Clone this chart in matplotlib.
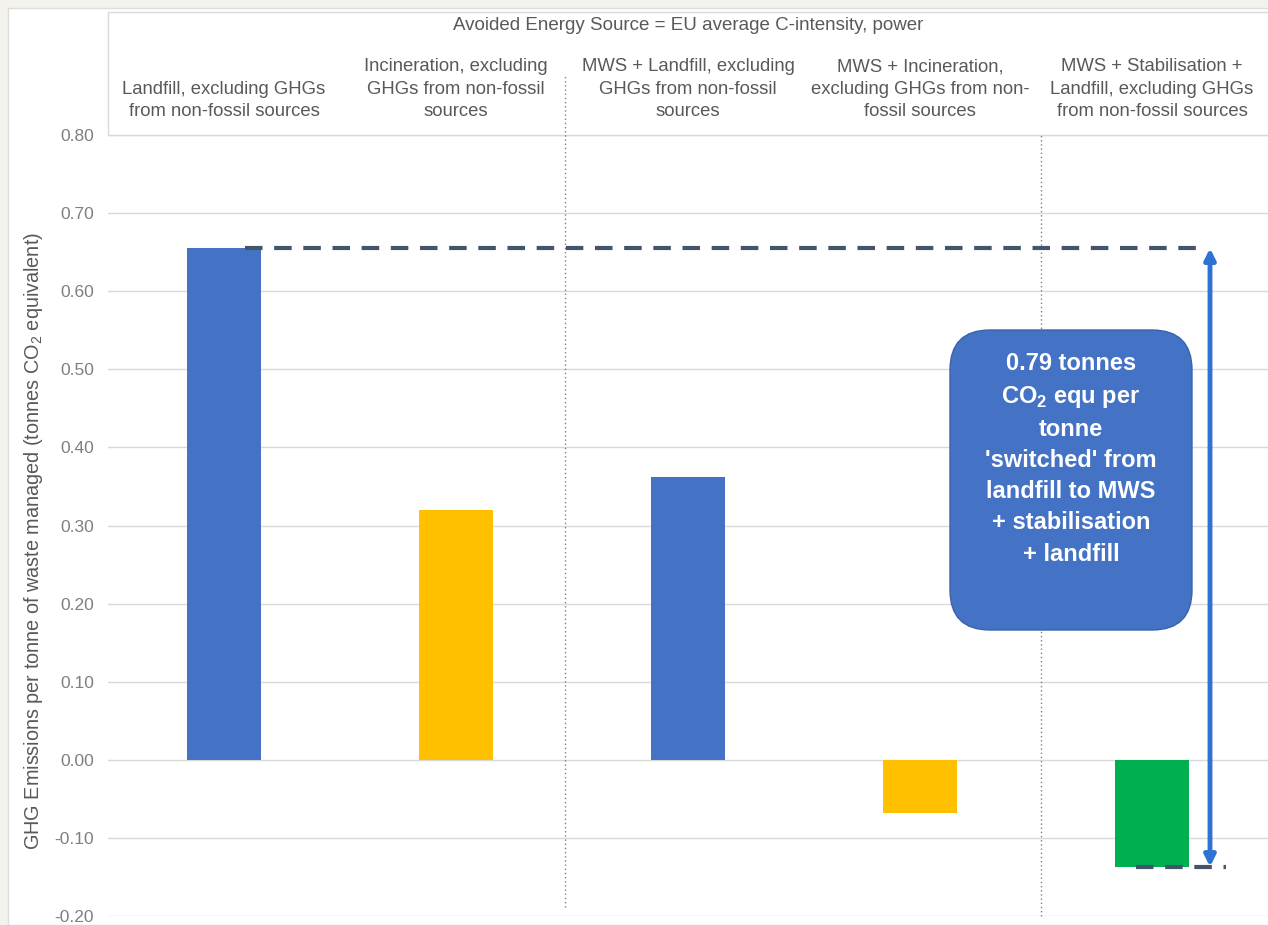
import matplotlib.pyplot as plt
from matplotlib.patches import Rectangle, FancyBboxPatch

plt.rcParams['font.family'] = ['Liberation Sans', 'DejaVu Sans']
plt.rcParams['mathtext.fontset'] = 'custom'
plt.rcParams['mathtext.rm'] = 'Liberation Sans'
plt.rcParams['mathtext.bf'] = 'Liberation Sans:bold'

# Scenario data (tonnes CO2e per tonne of waste managed)
scenarios = [
    "Landfill, excluding GHGs\nfrom non-fossil sources",
    "Incineration, excluding\nGHGs from non-fossil\nsources",
    "MWS + Landfill, excluding\nGHGs from non-fossil\nsources",
    "MWS + Incineration,\nexcluding GHGs from non-\nfossil sources",
    "MWS + Stabilisation +\nLandfill, excluding GHGs\nfrom non-fossil sources",
]
emissions = [0.655, 0.320, 0.362, -0.068, -0.137]
bar_colors = ["#4472c4", "#ffc000", "#4472c4", "#ffc000", "#00b050"]
yticks = [-0.20, -0.10, 0.00, 0.10, 0.20, 0.30, 0.40, 0.50, 0.60, 0.70, 0.80]

saving = emissions[0] - emissions[4]

W, H = 1268, 925
fig = plt.figure(figsize=(W / 100, H / 100), dpi=100, facecolor="#f4f2ec")

# white chart panel and header strip (behind the axes)
fig.patches.append(Rectangle((8 / W, 0), 1, 1 - 8 / H, transform=fig.transFigure,
                             facecolor="white", edgecolor="#dddddd", lw=1, zorder=-3))
fig.patches.append(Rectangle((108 / W, 1 - 135 / H), 1, (135 - 12) / H, transform=fig.transFigure,
                             facecolor="white", edgecolor="#d9d9d9", lw=1, zorder=-2))

ax = fig.add_axes([108 / W, 9 / H, 1160 / W, (916 - 135) / H])
ax.patch.set_alpha(0)

x = list(range(len(emissions)))
ax.bar(x, emissions, width=0.315, color=bar_colors, zorder=3)

ax.set_xlim(-0.5, 4.5)
ax.set_ylim(-0.20, 0.80)
ax.set_yticks(yticks)
ax.set_yticklabels([f"{v:.2f}" for v in yticks], fontsize=12.5, color="#7f7f7f")
ax.tick_params(axis="y", length=0, pad=10)
ax.grid(axis="y", color="#d9d9d9", lw=1)
ax.set_axisbelow(True)
for s in ax.spines.values():
    s.set_visible(False)

# category labels sit in the header above the plot
ax.xaxis.tick_top()
ax.set_xticks(x)
ax.set_xticklabels(scenarios, fontsize=13.3, color="#595959", linespacing=1.42)
ax.tick_params(axis="x", length=0, pad=10.5)

fig.text(688 / W, 1 - 26 / H, "Avoided Energy Source = EU average C-intensity, power",
         ha="center", va="center", fontsize=13.5, color="#595959")

ax.set_ylabel("GHG Emissions per tonne of waste managed (tonnes CO$_2$ equivalent)",
              fontsize=14.3, color="#595959")
ax.yaxis.set_label_coords(-63 / 1160, 0.48)

# dotted dividers between scenario groups
ax.plot([1.47, 1.47], [-0.188, 0.877], ls=(0, (1, 2)), color="#808080", lw=1,
        clip_on=False, zorder=2)
ax.plot([3.52, 3.52], [-0.20, 0.80], ls=(0, (1, 2)), color="#808080", lw=1,
        clip_on=False, zorder=2)

# dashed reference levels and double arrow between them
ax.plot([0.09, 4.22], [emissions[0], emissions[0]], ls=(0, (4.2, 2.8)), color="#44546a",
        lw=3, zorder=4)
ax.plot([3.93, 4.32], [emissions[4], emissions[4]], ls=(0, (4.2, 2.8)), color="#44546a",
        lw=3, zorder=4)
ax.annotate("", xy=(4.25, emissions[0]), xytext=(4.25, emissions[4]),
            arrowprops=dict(arrowstyle="<|-|>", color="#2e72d2", lw=3.5,
                            mutation_scale=16, shrinkA=0, shrinkB=0), zorder=5)

# rounded callout box
box = FancyBboxPatch((9.50, 2.95), 2.42, 3.00,
                     boxstyle="round,pad=0,rounding_size=0.4",
                     transform=fig.dpi_scale_trans, facecolor="#4472c4",
                     edgecolor="#3a63ad", lw=1, zorder=6)
fig.patches.append(box)
fig.text(10.71 / (W / 100), 4.66 / (H / 100),
         f"{saving:.2f} tonnes\nCO$_\\mathbf{{2}}$ equ per\ntonne\n'switched' from\n"
         "landfill to MWS\n+ stabilisation\n+ landfill",
         ha="center", va="center", fontsize=17, fontweight="bold", color="white",
         linespacing=1.45, zorder=7)

fig.savefig("out.png", dpi=100, facecolor=fig.get_facecolor())
